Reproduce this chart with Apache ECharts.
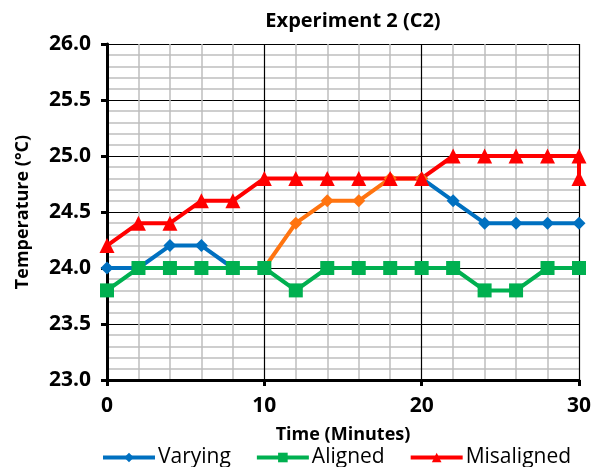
<!DOCTYPE html>
<html>
<head>
	<meta charset="utf-8" />
	<title>Experiment 2 (C2)</title>
	<script type="text/javascript" src="https://cdn.jsdelivr.net/npm/echarts@6/dist/echarts.min.js"></script>
	<style>
		html, body {margin:0;padding:0;background:#fff;}
		#chart {width:601px;height:467px;}
	</style>
</head>
<body>
	<div id="chart"></div>
	<script>
		// time in minutes
		var timeMin    = [0, 2, 4, 6, 8, 10, 12, 14, 16, 18, 20, 22, 24, 26, 28, 30];
		var varying    = [24.0, 24.0, 24.2, 24.2, 24.0, 24.0, 24.4, 24.6, 24.6, 24.8, 24.8, 24.6, 24.4, 24.4, 24.4, 24.4];
		var aligned    = [23.8, 24.0, 24.0, 24.0, 24.0, 24.0, 23.8, 24.0, 24.0, 24.0, 24.0, 24.0, 23.8, 23.8, 24.0, 24.0];
		var misaligned = [24.2, 24.4, 24.4, 24.6, 24.6, 24.8, 24.8, 24.8, 24.8, 24.8, 24.8, 25.0, 25.0, 25.0, 25.0, 25.0];
		var misalignedEnd = [30, 24.8];   // extra last reading
		var orangeFrom = 10, orangeTo = 20; // varying segment drawn in orange

		var font = 'Open Sans';

		function pairs(xs, ys, keep) {
			return xs.map((x, i) => (!keep || keep(x)) ? [x, ys[i]] : [x, null]);
		}

		var chart = echarts.init(document.getElementById('chart'));

		var option = {
			animation: false,
			textStyle: {fontFamily: font},
			title: {
				text: 'Experiment 2 (C2)',
				left: 348,
				textAlign: 'center',
				top: 6,
				textStyle: {fontFamily: font, fontSize: 20, fontWeight: 'bold', color: '#000'}
			},
			legend: {
				data: ['Varying', 'Aligned', 'Misaligned'],
				top: 442,
				left: 96,
				itemWidth: 52,
				itemHeight: 12,
				itemGap: 24,
				lineStyle: {width: 4},
				textStyle: {fontFamily: font, fontSize: 21, color: '#000', padding: [0, 0, 0, -2]}
			},
			grid: {
				left: 107,
				right: 22,
				top: 44,
				bottom: 87
			},
			xAxis: {
				type: 'value',
				min: 0,
				max: 30,
				interval: 10,
				name: 'Time (Minutes)',
				nameLocation: 'middle',
				nameGap: 46,
				nameTextStyle: {fontFamily: font, fontSize: 18, fontWeight: 'bold', color: '#000'},
				axisLine: {lineStyle: {color: '#000', width: 3}},
				axisTick: {show: true, length: 6, lineStyle: {color: '#000', width: 3}},
				axisLabel: {fontFamily: font, fontSize: 21, fontWeight: 'bold', color: '#000', margin: 16},
				splitLine: {show: true, lineStyle: {color: '#000', width: 1.2}},
				minorTick: {show: false, splitNumber: 5},
				minorSplitLine: {show: true, lineStyle: {color: '#bfbfbf', width: 1.5}}
			},
			yAxis: {
				type: 'value',
				min: 23,
				max: 26,
				interval: 0.5,
				name: 'Temperature (°C)',
				nameLocation: 'middle',
				nameGap: 75,
				nameTextStyle: {fontFamily: font, fontSize: 18, fontWeight: 'bold', color: '#000'},
				axisLine: {show: true, lineStyle: {color: '#000', width: 3}},
				axisTick: {show: true, length: 6, lineStyle: {color: '#000', width: 3}},
				axisLabel: {fontFamily: font, fontSize: 21, fontWeight: 'bold', color: '#000', margin: 16,
					formatter: v => v.toFixed(1)},
				splitLine: {show: true, lineStyle: {color: '#000', width: 1.2}},
				minorTick: {show: false, splitNumber: 5},
				minorSplitLine: {show: true, lineStyle: {color: '#bfbfbf', width: 1.5}}
			},
			series: [
				{
					name: 'Varying',
					type: 'line',
					data: pairs(timeMin, varying, x => x <= orangeFrom || x >= orangeTo),
					symbol: 'diamond',
					symbolSize: 13,
					itemStyle: {color: '#0070c0'},
					lineStyle: {color: '#0070c0', width: 4}
				},
				{
					name: 'Varying (10-20)',
					type: 'line',
					data: pairs(timeMin, varying, x => x >= orangeFrom && x <= orangeTo),
					symbol: 'diamond',
					symbolSize: 13,
					itemStyle: {color: '#ff7410'},
					lineStyle: {color: '#ff7410', width: 4}
				},
				{
					name: 'Aligned',
					type: 'line',
					data: pairs(timeMin, aligned),
					symbol: 'rect',
					symbolSize: 14,
					itemStyle: {color: '#00b050'},
					lineStyle: {color: '#00b050', width: 4}
				},
				{
					name: 'Misaligned',
					type: 'line',
					data: pairs(timeMin, misaligned).concat([misalignedEnd]),
					symbol: 'triangle',
					symbolSize: 15,
					itemStyle: {color: '#ff0000'},
					lineStyle: {color: '#ff0000', width: 4}
				}
			]
		};

		chart.setOption(option);
	</script>
</body>
</html>
